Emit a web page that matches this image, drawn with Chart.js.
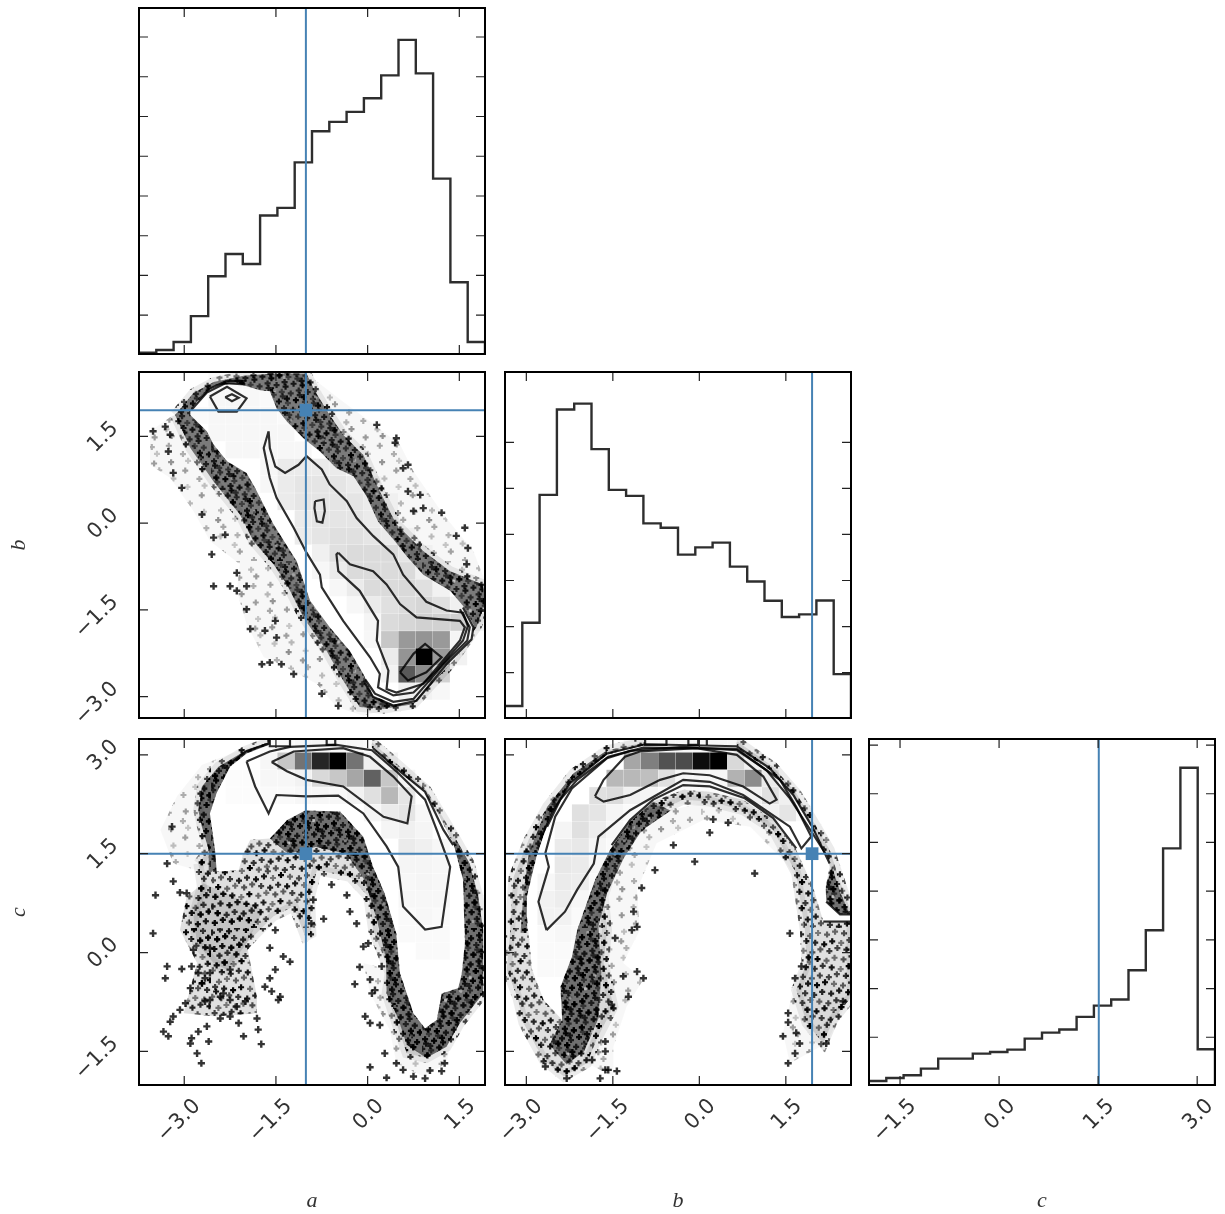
<!DOCTYPE html>
<html>
<head>
<meta charset="utf-8">
<title>corner plot</title>
<script src="https://cdn.jsdelivr.net/npm/chart.js@4"></script>
<style>
  html, body { margin: 0; padding: 0; background: #fff; }
  #plot { position: relative; width: 1225px; height: 1214px; overflow: hidden; filter: blur(0.7px); }
  canvas { position: absolute; }
</style>
</head>
<body>
<div id="plot"></div>
<script>
// axis limits and ticks
const limA = [-3.74, 1.92];
const limBx = [-3.37, 2.63];
const limBy = [-3.37, 2.615];
const limCx = [-1.97, 3.27];
const limCy = [-2.01, 3.24];
const tickAB = [-3, -1.5, 0, 1.5];
const tickCx = [-1.5, 0, 1.5, 3];
const tickCy = [-1.5, 0, 1.5, 3];
const truthA = -1.01, truthB = 1.955, truthC = 1.5;

// 1D histograms, 20 bins
const histA = [29,63,163,489,990,1270,1145,1754,1850,2423,2815,2932,3058,3229,3517,3964,3542,2218,915,163];
const histB = [137,1042,2430,3356,3421,2927,2484,2419,2120,2073,1781,1860,1911,1651,1489,1280,1103,1132,1283,483];
const histC = [51,82,110,178,281,281,332,349,373,486,548,579,709,825,887,1188,1599,2439,3267,377];
const histTickA = [500,1000,1500,2000,2500,3000,3500,4000];
const histTickB = [500,1000,1500,2000,2500,3000];
const histTickC = [500,1000,1500,2000,2500,3000,3500];

// a vs b
const sparseAB = [[[-3.56,1.59],[-3.18,1.87],[-2.03,2.56],[-1,2.59],[-.4,2.1],[.04,1.76],[.53,1.36],[.75,.9],[1.24,.15],[1.73,-.48],[1.92,-1],[1.92,-1.63],[.26,-3.24],[-.07,-3.33],[-.51,-3.18],[-.83,-2.78],[-1.43,-2.44],[-1.7,-2.32],[-1.98,-1.75],[-2.14,-1.17],[-2.09,-.71],[-2.58,-.31],[-2.85,.21],[-3.23,.78],[-3.56,1.01]]];
const midAB = [];
const denseAB = [[-3.15,1.87],[-2.85,2.25],[-2.52,2.44],[-2.03,2.55],[-1.54,2.59],[-1,2.59],[-.86,2.28],[-.62,1.87],[-.4,1.53],[-.07,1.18],[.2,.55],[.47,-.02],[.91,-.48],[1.35,-.83],[1.89,-1.06],[1.92,-1.4],[1.78,-1.8],[1.35,-2.44],[.75,-3.13],[.26,-3.21],[-.13,-3.18],[-.4,-2.72],[-.67,-2.21],[-1.05,-1.63],[-1.32,-1.06],[-1.54,-.71],[-1.87,-.31],[-2.09,.15],[-2.52,.72],[-2.9,1.3]];
const coreAB = [];
const whiteAB = [[-2.9,1.93],[-2.71,2.22],[-2.49,2.38],[-2.14,2.42],[-1.76,2.3],[-1.6,2.28],[-1.49,1.99],[-1.32,1.76],[-1.05,1.47],[-.78,1.24],[-.51,.95],[-.23,.81],[-.02,.47],[.17,.03],[.42,-.28],[.64,-.57],[.91,-.89],[1.35,-1.17],[1.56,-1.43],[1.73,-1.75],[1.73,-1.98],[1.35,-2.44],[1.02,-2.78],[.75,-3.1],[.42,-3.13],[.09,-2.98],[-.07,-2.61],[-.29,-2.21],[-.62,-1.8],[-.94,-1.34],[-1.16,-.66],[-1.54,-.02],[-1.84,.61],[-1.98,.87],[-2.3,1.07],[-2.52,1.36],[-2.63,1.59],[-2.9,1.87]];
const ptsAB = [[-3.31,1.67],[-3.51,1.59],[-3.23,1.53],[-3.18,.87],[-3.26,1.24],[-3.04,.61],[-2.71,.15],[-2.52,-.25],[-2.55,-.54],[-2.33,-.2],[-2.14,-.86],[-1.98,-1.09],[-2.52,-1.09],[-2.25,-1.09],[-2.14,-1.17],[-1.98,-1.49],[-1.92,-1.83],[-1.68,-1.86],[-1.51,-1.69],[-1.6,-2.41],[-1.49,-1.98],[-1.41,-2.44],[-1.21,-2.61],[-1.73,-2.44],[-.75,-2.95],[-.48,-3.16],[.15,1.7],[.47,1.47],[.45,1.39],[.58,.95],[.66,1.01],[.66,.55],[.86,.49],[.75,.21],[.91,.26],[1.21,.18],[1.59,-.08],[1.45,-.22],[1.64,-.43],[1.62,-.71]];
const densAB = [[0,4,2,2,2],[1,4,3,3,3,2],[2,3,2,3,3,3,3,2],[3,4,3,3,3,3,3],[4,5,3,3,3,3,3],[5,7,3,8,8,8,8,4],[6,7,3,8,10,10,10,8,3],[7,8,8,10,10,10,10,8,3],[8,9,8,10,10,10,8,4],[9,9,8,10,12,12,10,8,3],[10,10,6,12,14,14,14,10,3],[11,10,3,8,14,14,14,14,6],[12,11,3,8,14,14,15,12,5],[13,12,3,8,12,14,16,12,6],[14,13,4,14,16,18,18,18,5],[15,13,3,22,40,42,40,4],[16,14,8,42,100,40,5],[17,14,5,65,45,18],[18,15,6,5,3]];
const contoursAB = [
  [[-1.62,1.59],[-1.7,1.3],[-1.6,.78],[-1.49,.44],[-1.21,-.08],[-1,-.51],[-.78,-.89],[-.75,-1.11],[-.4,-1.69],[.04,-2.32],[.2,-2.61],[.17,-2.84],[.42,-2.98],[.75,-2.93],[1.13,-2.55],[1.56,-2.03],[1.64,-1.78],[1.56,-1.55],[1.29,-1.51],[.96,-1.36],[.58,-.89],[.42,-.54],[.09,-.22],[-.18,.09],[-.34,.38],[-.62,.67],[-.75,.93],[-1,1.16],[-1.13,1.01],[-1.35,.87],[-1.51,.98],[-1.6,1.3],[-1.62,1.59]],
  [[-.48,-.51],[-.29,-.71],[.09,-.83],[.31,-1.06],[.53,-1.4],[.8,-1.63],[1.51,-1.69],[1.59,-1.8],[1.51,-2.03],[.91,-2.78],[.47,-2.93],[.31,-2.87],[.34,-2.55],[.15,-2.03],[.17,-1.69],[-.13,-1.17],[-.48,-.83],[-.51,-.54],[-.48,-.51]],
  [[-.86,.38],[-.72,.41],[-.7,.21],[-.74,.01],[-.83,.03],[-.87,.26],[-.86,.38]],
  [[-2.58,2.19],[-2.3,2.36],[-1.98,2.16],[-2.14,1.93],[-2.44,1.93],[-2.58,2.19]],
  [[-2.33,2.18],[-2.22,2.23],[-2.11,2.17],[-2.22,2.11],[-2.33,2.18]],
  [[.53,-2.58],[.75,-2.26],[.94,-2.09],[1.21,-2.32],[.96,-2.58],[.66,-2.72],[.53,-2.58]],
  [[1.56,-1.46],[1.73,-1.8],[1.7,-2.01],[1.29,-2.44],[.8,-3.07],[.42,-3.16],[.09,-3.01],[-.07,-2.72]],
  [[1.51,-1.49],[1.67,-1.8],[1.63,-2.03],[1.24,-2.44],[.75,-3.04],[.42,-3.09],[.12,-2.95],[-.04,-2.7]],
  [[-2.88,1.96],[-2.63,2.26],[-2.33,2.42],[-2,2.4]],
  [[-2.77,2.13],[-2.58,2.33],[-2.3,2.46],[-1.98,2.46]]
];

// a vs c
const sparseAC = [
  [[-3.39,1.86],[-3.12,2.37],[-2.71,2.85],[-2,3.1],[-1.62,3.19],[-1.62,2.87],[-2.47,2.37],[-2.58,1.35],[-2.79,1.25],[-3.18,1.35]],
  [[-.07,-.16],[.36,-.26],[.58,-1.17],[1.35,-1.43],[1.29,-1.68],[.91,-1.88],[.47,-1.68],[.36,-1.17],[.04,-.62]]
];
const midAC = [[[-2.96,.85],[-2.69,1.05],[-1.7,.65],[-1.98,.14],[-1.81,-.67],[-1.81,-.92],[-2.47,-.97],[-3.01,-.92],[-2.79,-.16],[-3.07,.34]]];
const denseAC = [[-2.77,1.35],[-2.6,1.56],[-2.71,1.91],[-2.77,2.16],[-2.71,2.52],[-2.44,2.82],[-2,3.06],[-1.62,3.19],[.07,3.19],[.47,2.87],[.96,2.47],[1.45,1.71],[1.67,1.35],[1.81,.85],[1.89,.34],[1.89,-.62],[1.51,-1.07],[1.29,-1.43],[.96,-1.6],[.64,-1.53],[.47,-1.07],[.31,-.62],[.36,-.31],[.09,.34],[.01,.85],[-.29,1.15],[-.83,1.25],[-.94,.85],[-.92,.29],[-1.02,.24],[-1.21,.7],[-1.54,.55],[-1.98,.14],[-2.3,-.26],[-2.52,-.16],[-2.79,.14],[-2.85,.55],[-2.71,1]];
const coreAC = [
  [[-1.6,1.73],[-1.32,2.01],[-1.02,2.16],[-.45,2.14],[-.07,1.76],[.09,1.3],[.28,.9],[.47,.29],[.53,-.31],[.75,-.92],[.94,-1.15],[1.13,-1.02],[1.21,-.62],[1.48,-.54],[1.54,-.31],[1.59,.14],[1.56,1.1],[1.4,1.66],[1.45,1.71],[1.67,1.35],[1.81,.85],[1.89,.34],[1.89,-.62],[1.51,-1.07],[1.29,-1.43],[.96,-1.6],[.64,-1.4],[.5,-1],[.31,-.62],[.3,-.1],[.15,.5],[-.05,1.1],[-.35,1.5],[-.85,1.6],[-1.3,1.5]],
  [[-2.6,1.56],[-2.71,1.91],[-2.77,2.16],[-2.71,2.52],[-2.44,2.82],[-2,3.06],[-1.62,3.19],[-1.62,3.1],[-2.3,2.6],[-2.5,2],[-2.4,1.3],[-2.6,1.2]]
];
const whiteAC = [[-2.58,2.11],[-2.47,2.42],[-2.25,2.82],[-1.98,3.02],[-1.62,3.15],[-1.62,3.25],[.07,3.25],[.07,3.1],[.42,2.82],[.91,2.44],[1.15,2.11],[1.4,1.66],[1.56,1.1],[1.59,.14],[1.54,-.31],[1.48,-.54],[1.21,-.62],[1.13,-1.02],[.94,-1.15],[.75,-.92],[.53,-.31],[.47,.29],[.28,.9],[.09,1.3],[-.07,1.76],[-.45,2.14],[-1.02,2.16],[-1.32,2.01],[-1.6,1.73],[-1.92,1.71],[-2.03,1.51],[-2.11,1.25],[-2.47,1.23],[-2.49,1.51]];
const ptsAC = [[-3.2,1.91],[-3.28,1.35],[-3.47,.87],[-3.51,.29],[-2.96,.9],[-3.07,.91],[-3.18,1.08],[-2.85,.04],[-2.58,.07],[-3.28,-.21],[-3.31,-.39],[-3.04,-.25],[-2.88,-.21],[-2.77,-.31],[-2.66,-.39],[-2.58,-.31],[-2.71,-.47],[-2.9,-.54],[-2.98,-.77],[-3.07,-.87],[-3.18,-.97],[-3.23,-1.05],[-3.26,-1.27],[-3.34,-1.2],[-2.77,-1.2],[-2.63,-1.12],[-2.88,-1.3],[-2.9,-1.38],[-2.6,-1.35],[-2.79,-1.53],[-2.72,-1.68],[-2.41,-1],[-2.41,-.67],[-2.58,-.72],[-2.66,-.74],[-2.25,-.26],[-2.36,-.62],[-2.25,-.72],[-2.14,-.82],[-2,-.74],[-2.11,-1.07],[-2.03,-1.27],[-1.79,-1.17],[-1.74,-1.39],[-1.81,-1],[-2.25,-.97],[-1.6,.07],[-1.27,-.14],[-1.38,-.06],[-1.51,-.26],[-1.6,-.39],[-1.68,-.52],[-1.57,-.59],[-1.43,-.67],[-1.46,-.72],[-.72,.51],[-.07,.09],[.01,.14],[-.13,-.22],[.23,-.21],[.04,-.41],[.12,-.57],[.07,-.62],[-.04,-.97],[.2,-1.1],[.04,-1.07],[.28,-1.53],[.04,-1.74],[.31,-1.9],[.75,-1.88],[.94,-1.91],[1.02,-1.79],[.47,-1.68],[.58,-1.78],[1.26,-1.68],[1.21,-1.8],[-.29,.62],[-.18,.44],[-.21,-.48],[-1.51,.34],[-.92,.44],[-.59,1.03],[-.34,.87],[-.89,.8],[1.21,.02],[-2.17,1.84]];
const densAC = [[0,7,2,2,3,3,3,3,2],[1,7,3,22,55,85,100,55,6,4],[2,5,1,1,3,3,5,15,22,35,62,22,4],[3,5,1,1,2,2,3,3,3,5,12,28,10],[4,13,4,8,10,3],[5,14,4,6,4],[6,15,8,6,3],[7,15,4,4,3],[8,15,3,4,3],[9,15,3,3,3],[10,15,2,3,2],[11,15,2,2,2],[12,16,2,2]];
const contoursAC = [
  [[-1.98,2.9],[-1.84,2.52],[-1.62,2.11],[-1.49,2.39],[-1,2.37],[-.48,2.38],[-.07,2.11],[.31,1.61],[.5,1.3],[.58,.7],[.94,.35],[1.21,.39],[1.35,1.3],[1.15,1.81],[.94,2.32],[.47,2.75],[.07,3.07],[-.51,3.15],[-1.27,3.12],[-1.6,3.05],[-1.98,2.9]],
  [[-1.57,2.89],[-1.21,3.05],[-.4,3.1],[.04,2.97],[.42,2.67],[.72,2.37],[.65,1.96],[.26,2.06],[-.07,2.29],[-.4,2.52],[-1,2.62],[-1.32,2.75],[-1.57,2.89]],
  [[.09,3.1],[.53,2.75],[.94,2.44],[1.24,1.86],[1.4,1.63]],
  [[-2.25,2.87],[-1.98,3.06],[-1.62,3.17],[-1.62,3.25]],
  [[-1.6,3.25],[-1.6,3.13],[-1.27,3.13],[-1.27,3.25]],
  [[-.67,3.25],[-.67,3.15],[-.53,3.15],[-.53,3.25]]
];

// b vs c
const sparseBC = [
  [[-1.49,1.35],[-.8,2.11],[.18,2.29],[1.11,2.11],[1.68,1.35],[1.8,.95],[1.51,1.35],[.88,1.91],[.07,2.01],[-.74,1.66],[-1.08,.95],[-1.03,.34],[-1.32,-.16],[-.97,-.41],[-1.26,-.82],[-1.49,-1.43],[-1.49,-1.88],[-1.95,-1.68],[-1.78,-.67]],
  [[1.68,-.36],[1.86,-.16],[2.61,-.67],[2.2,-1.38],[1.57,-1.68],[1.45,-1.22]]
];
const midBC = [];
const denseBC = [[-3.25,.85],[-3.22,1.15],[-2.96,1.71],[-2.64,2.21],[-2.18,2.72],[-1.6,3.07],[-.94,3.19],[.68,3.19],[1.28,2.82],[1.68,2.42],[2.03,1.91],[2.26,1.56],[2.49,.95],[2.64,.6],[2.64,-.67],[2.32,-1.02],[2.15,-1.38],[1.86,-1.07],[1.68,-.57],[1.86,-.16],[1.83,.34],[1.68,1.2],[1.28,1.86],[.76,2.16],[.18,2.29],[-.28,2.32],[-.8,2.11],[-1.2,1.76],[-1.49,1.35],[-1.66,.85],[-1.6,.34],[-1.66,-.16],[-1.49,-.82],[-1.78,-1.32],[-1.95,-1.68],[-2.35,-1.88],[-2.7,-1.63],[-3.05,-1.07],[-3.16,-.67],[-3.34,-.26],[-3.28,.34]];
const coreBC = [
  [[-.8,2.29],[-1.2,1.99],[-1.55,1.56],[-1.81,1.1],[-2.12,.34],[-2.21,-.06],[-2.41,-.52],[-2.38,-1.02],[-2.6,-1.4],[-2.3,-1.7],[-2,-1.5],[-1.75,-1],[-1.7,-.3],[-1.75,.4],[-1.6,.9],[-1.3,1.45],[-1,1.85],[-.5,2.15]],
  [[2.19,1],[2.2,.77],[2.44,.58],[2.6,.6],[2.45,.9],[2.3,1.3]],
  [[-3.05,.9],[-2.96,1.5],[-2.64,2.21],[-2.18,2.72],[-1.6,3.07],[-1.6,3],[-2.24,2.57],[-2.59,2.06],[-2.82,1.46],[-2.99,.85],[-2.99,.3],[-3.1,.3]]
];
const whiteBC = [[-2.38,-1.02],[-2.7,-.72],[-2.9,-.26],[-2.99,.55],[-2.99,.85],[-2.82,1.46],[-2.59,2.06],[-2.24,2.57],[-1.6,3],[-.94,3.15],[-.94,3.25],[.65,3.25],[.65,3.1],[1.22,2.77],[1.63,2.37],[1.97,1.86],[2.2,1.51],[2.26,1.3],[2.19,1],[2.2,.77],[2.44,.58],[2.64,.58],[2.64,.47],[2.15,.47],[1.97,1],[1.68,1.56],[1.28,2.01],[.76,2.32],[.18,2.44],[-.28,2.47],[-.8,2.29],[-1.2,1.99],[-1.55,1.56],[-1.81,1.1],[-2.12,.34],[-2.21,-.06],[-2.41,-.52]];
const ptsBC = [[-1,.98],[-.08,1.38],[-.77,1.25],[-.45,1.63],[.18,1.82],[.5,1.97],[.24,2.02],[.96,1.2],[1.57,.29],[1.66,-.39],[1.77,-.21],[1.54,-.92],[1.54,-1.06],[1.45,-1.27],[1.68,-1.22],[1.74,-1.38],[2.2,-1.38],[1.54,-1.68],[1.66,-1.53],[-1.63,-1.78],[-1.58,-1.78],[-1.43,-1.8],[-1.72,-1.91],[-2.3,-1.91],[-2.67,-1.73],[-1.52,-.79],[-1.23,-.67],[-1.32,-.36],[-1.08,-.29],[-.97,-.39],[-1.63,-1.35],[-1.63,-1.5],[-1.86,-1.63],[-1.08,.39],[-1.17,.34],[-1.46,.22],[-1.14,.62],[2.49,-.74]];
const densBC = [[0,7,3,3,3,3,3,3,3],[1,7,35,50,68,70,95,100,15,6],[2,6,28,28,25,12,3,3,3,30,45,8],[3,5,12,14,6,4,2,2,2,2,3,5,12,6],[4,4,12,10,4,2],[4,15,5,10,2],[5,3,4,12,7,3],[6,3,8,9,4,2],[7,3,9,8,3],[8,2,3,8,7,2],[9,2,5,7,3],[10,2,5,5,2],[11,2,2,3,2],[12,2,2,2,2],[13,2,2,2]];
const contoursBC = [
  [[-2.65,.34],[-2.79,.77],[-2.61,1.3],[-2.67,1.51],[-2.5,2.06],[-2.21,2.49],[-1.6,2.95],[-1.2,3.06],[-.28,3.12],[.65,3.07],[1.11,2.8],[1.4,2.62],[1.68,2.21],[1.94,1.76],[1.77,1.58],[1.57,1.91],[.76,2.39],[.18,2.59],[-.28,2.62],[-.74,2.39],[-1.2,2.16],[-1.75,1.76],[-1.83,1.35],[-2.12,.95],[-2.33,.62],[-2.65,.34]],
  [[-1.81,2.37],[-1.66,2.62],[-1.29,2.97],[-1.03,3.05],[-.05,3.1],[.65,3],[1.11,2.67],[1.34,2.32],[1.22,2.26],[.76,2.52],[.18,2.69],[-.28,2.72],[-.68,2.62],[-1.2,2.39],[-1.66,2.29],[-1.81,2.37]],
  [[-2.76,1.71],[-2.56,2.11],[-2.24,2.57],[-1.6,3.02],[-.94,3.16],[.65,3.13],[1.22,2.8],[1.63,2.39],[1.97,1.89],[2.26,1.35]],
  [[-2.64,1.91],[-2.41,2.32],[-2.12,2.62],[-1.58,2.97],[-.97,3.11],[.65,3.09],[1.17,2.76],[1.57,2.34],[1.94,1.84],[2.18,1.51]],
  [[-1.52,1.63],[-1.2,2.01],[-.8,2.32],[-.28,2.54],[.18,2.52],[.79,2.34],[1.28,2.04],[1.68,1.58]],
  [[-.94,3.25],[-.94,3.15],[-.57,3.15],[-.57,3.25]],
  [[-.19,3.25],[-.19,3.15],[-.02,3.15],[-.02,3.25]],
  [[.13,3.25],[.13,3.15]],
  [[2.2,.77],[2.44,.58],[2.64,.58]],
  [[2.15,.47],[2.64,.47]]
];

const blue = '#4682b4';
const lineCol = 'rgba(0,0,0,0.82)';

// texture for the piled-up scatter marks: dark plus signs, then light gaps
function scatterTile(base, alpha, n, gaps) {
  const size = 211;
  const c = document.createElement('canvas');
  c.width = c.height = size;
  const g = c.getContext('2d');
  g.fillStyle = base;
  g.fillRect(0, 0, size, size);
  g.lineWidth = 2.2;
  const plus = (x, y, r) => {
    g.beginPath();
    g.moveTo(x - r, y); g.lineTo(x + r, y);
    g.moveTo(x, y - r); g.lineTo(x, y + r);
    g.stroke();
  };
  for (let i = 1; i <= n; i++) {
    g.strokeStyle = 'rgba(0,0,0,' + alpha * (0.45 + 0.55 * (i * 0.381966 % 1)) + ')';
    plus((i * 0.7548777 % 1) * size, (i * 0.5698403 % 1) * size, 3);
  }
  for (let i = 1; i <= gaps; i++) {
    g.strokeStyle = 'rgba(255,255,255,' + (0.2 + 0.4 * (i * 0.381966 % 1)) + ')';
    plus((i * 0.4301597 % 1) * size, (i * 0.8191725 % 1) * size, 1.5);
  }
  return g.createPattern(c, 'repeat');
}
const tileDense = scatterTile('rgba(0,0,0,0.5)', 1, 950, 70);
const tileMid = scatterTile('rgba(0,0,0,0.12)', 1, 620, 0);
const tileEdge = scatterTile('rgba(0,0,0,0.08)', 0.9, 420, 0);
const tileSparse = scatterTile('rgba(0,0,0,0.03)', 0.42, 260, 0);

const xy = pts => pts.map(p => ({x: p[0], y: p[1]}));

function shape(pts, fill, edge) {
  return {data: xy(pts.concat([pts[0]])), showLine: true, fill: 'shape', backgroundColor: fill,
    borderColor: edge || fill, borderWidth: edge ? 10 : 0, pointRadius: 0, tension: 0};
}
function line(pts, color, width) {
  return {data: xy(pts), showLine: true, fill: false, borderColor: color, borderWidth: width, pointRadius: 0, tension: 0};
}
function marks(pts) {
  return {data: xy(pts), showLine: false, pointStyle: 'cross', pointRadius: 3.6, pointBorderWidth: 2.4, pointBorderColor: 'rgba(0,0,0,0.8)'};
}
function cells(rows, x0, dx, y0, dy) {
  const data = [], colors = [];
  rows.forEach(r => r.slice(2).forEach((d, k) => {
    data.push({x: x0 + (r[1] + k + 0.5) * dx, y: y0 - (r[0] + 0.5) * dy});
    colors.push('rgba(0,0,0,' + d / 100 + ')');
  }));
  return {data, showLine: false, pointStyle: 'rect', pointRadius: 12, pointBorderWidth: 0, pointBackgroundColor: colors};
}
function truthLines(tx, ty, xl, yl) {
  const out = [];
  if (ty !== null) {
    out.push({data: [{x: tx, y: ty}], showLine: false, pointStyle: 'rect', pointRadius: 9, pointBorderWidth: 0, pointBackgroundColor: blue});
    out.push(line([[xl[0], ty], [xl[1], ty]], blue, 2));
  }
  out.push(line([[tx, yl[0]], [tx, yl[1]]], blue, 2));
  return out;
}

function panel2d(o) {
  // bottom to top, reversed at the end because the first dataset is drawn last
  let ds = [];
  o.sparse.forEach(p => ds.push(shape(p, tileSparse)));
  o.mid.forEach(p => ds.push(shape(p, tileMid)));
  ds.push(shape(o.dense, o.denseTile, tileEdge));
  o.core.forEach(p => ds.push(shape(p, tileDense)));
  ds.push(marks(o.pts));
  ds.push(shape(o.white, '#fff'));
  ds.push(cells(o.dens, o.x0, o.dx, o.y0, o.dy));
  o.contours.forEach(c => ds.push(line(c, lineCol, 2.2)));
  ds = ds.concat(truthLines(o.tx, o.ty, o.xl, o.yl).reverse());
  return ds.reverse();
}
function panelHist(vals, lim, tx, yl) {
  const pts = vals.map((v, i) => [lim[0] + (lim[1] - lim[0]) * i / vals.length, v]);
  pts.push([lim[1], 0]);
  const step = line(pts, lineCol, 2.4);
  step.stepped = 'before';
  return truthLines(tx, null, lim, yl).concat([step]);
}

const frame = {
  id: 'frame',
  afterDraw(chart) {
    const {ctx, chartArea: {left, right, top, bottom}, scales: {x, y}} = chart;
    ctx.save();
    ctx.strokeStyle = '#222';
    ctx.lineWidth = 1.2;
    ctx.beginPath();
    x.ticks.forEach(t => {
      const px = x.getPixelForValue(t.value);
      ctx.moveTo(px, bottom); ctx.lineTo(px, bottom - 9);
      ctx.moveTo(px, top); ctx.lineTo(px, top + 9);
    });
    y.ticks.forEach(t => {
      const py = y.getPixelForValue(t.value);
      ctx.moveTo(left, py); ctx.lineTo(left + 9, py);
      ctx.moveTo(right, py); ctx.lineTo(right - 9, py);
    });
    ctx.stroke();
    ctx.strokeStyle = '#000';
    ctx.lineWidth = 2;
    ctx.strokeRect(left, top, right - left, bottom - top);
    ctx.restore();
  }
};

const fmt = v => (v < 0 ? '\u2212' : '') + Math.abs(v).toFixed(1);
const tickFont = {family: '"DejaVu Sans"', size: 21};
const titleFont = {family: '"Liberation Serif"', size: 22, style: 'italic'};

function axis(lim, ticks, size, horizontal, labels, title) {
  return {
    type: 'linear', min: lim[0], max: lim[1],
    grid: {display: false}, border: {display: false},
    title: title ? {display: true, text: title, font: titleFont, color: '#333', padding: {top: horizontal ? 3 : 6, bottom: 0}} : {display: false},
    ticks: {
      display: labels, autoSkip: false, minRotation: 45, maxRotation: 45,
      color: '#333', font: tickFont, callback: fmt,
      padding: horizontal ? 1 : 16,
      labelOffset: horizontal ? 13 : -11
    },
    afterBuildTicks: s => { s.ticks = ticks.map(v => ({value: v})); },
    afterFit: s => {
      if (horizontal) s.height = size; else s.width = size;
      s.paddingLeft = s.paddingRight = s.paddingTop = s.paddingBottom = 0;
    }
  };
}

function addPanel(box, datasets, xAxis, yAxis) {
  const padL = box.padL, padB = box.padB, padT = 8 < box.y ? 22 : 4;
  const c = document.createElement('canvas');
  c.width = box.w + padL + 4;
  c.height = box.h + padB + padT;
  c.style.left = (box.x - padL) + 'px';
  c.style.top = (box.y - padT) + 'px';
  document.getElementById('plot').appendChild(c);
  new Chart(c, {
    type: 'scatter',
    data: {datasets},
    options: {
      responsive: false, animation: false, events: [],
      layout: {autoPadding: false, padding: {top: padT, right: 4, left: 0, bottom: 0}},
      plugins: {legend: {display: false}, tooltip: {enabled: false}},
      scales: {
        x: axis(xAxis.lim, xAxis.ticks, padB, true, xAxis.labels, xAxis.title),
        y: axis(yAxis.lim, yAxis.ticks, padL, false, yAxis.labels, yAxis.title)
      }
    },
    plugins: [frame]
  });
}

const cols = [139, 505, 869], rows = [8, 372, 739];
const W = 346, H = 346;
const box = (c, r, padL, padB) => ({x: cols[c], y: rows[r], w: W, h: H, padL, padB});

const histLimA = [12, 4365], histLimB = [7, 3764], histLimC = [10, 3562];

addPanel(box(0, 0, 20, 3), panelHist(histA, limA, truthA, histLimA),
  {lim: limA, ticks: tickAB, labels: false}, {lim: histLimA, ticks: histTickA, labels: false});

addPanel(box(0, 1, 139, 3), panel2d({sparse: sparseAB, mid: midAB, dense: denseAB, denseTile: tileDense, core: coreAB, white: whiteAB, pts: ptsAB, dens: densAB, contours: contoursAB,
    x0: -3.74, dx: 0.2827, y0: 2.61, dy: 0.2983, tx: truthA, ty: truthB, xl: limA, yl: limBy}),
  {lim: limA, ticks: tickAB, labels: false}, {lim: limBy, ticks: tickAB, labels: true, title: 'b'});

addPanel(box(1, 1, 15, 3), panelHist(histB, limBx, truthB, histLimB),
  {lim: limBx, ticks: tickAB, labels: false}, {lim: histLimB, ticks: histTickB, labels: false});

addPanel(box(0, 2, 139, 129), panel2d({sparse: sparseAC, mid: midAC, dense: denseAC, denseTile: tileMid, core: coreAC, white: whiteAC, pts: ptsAC, dens: densAC, contours: contoursAC,
    x0: -3.74, dx: 0.2827, y0: 3.30, dy: 0.2624, tx: truthA, ty: truthC, xl: limA, yl: limCy}),
  {lim: limA, ticks: tickAB, labels: true, title: 'a'}, {lim: limCy, ticks: tickCy, labels: true, title: 'c'});

addPanel(box(1, 2, 15, 129), panel2d({sparse: sparseBC, mid: midBC, dense: denseBC, denseTile: tileMid, core: coreBC, white: whiteBC, pts: ptsBC, dens: densBC, contours: contoursBC,
    x0: -3.41, dx: 0.2995, y0: 3.30, dy: 0.2624, tx: truthB, ty: truthC, xl: limBx, yl: limCy}),
  {lim: limBx, ticks: tickAB, labels: true, title: 'b'}, {lim: limCy, ticks: tickCy, labels: false});

addPanel(box(2, 2, 15, 129), panelHist(histC, limCx, 1.51, histLimC),
  {lim: limCx, ticks: tickCx, labels: true, title: 'c'}, {lim: histLimC, ticks: histTickC, labels: false});
</script>
</body>
</html>
